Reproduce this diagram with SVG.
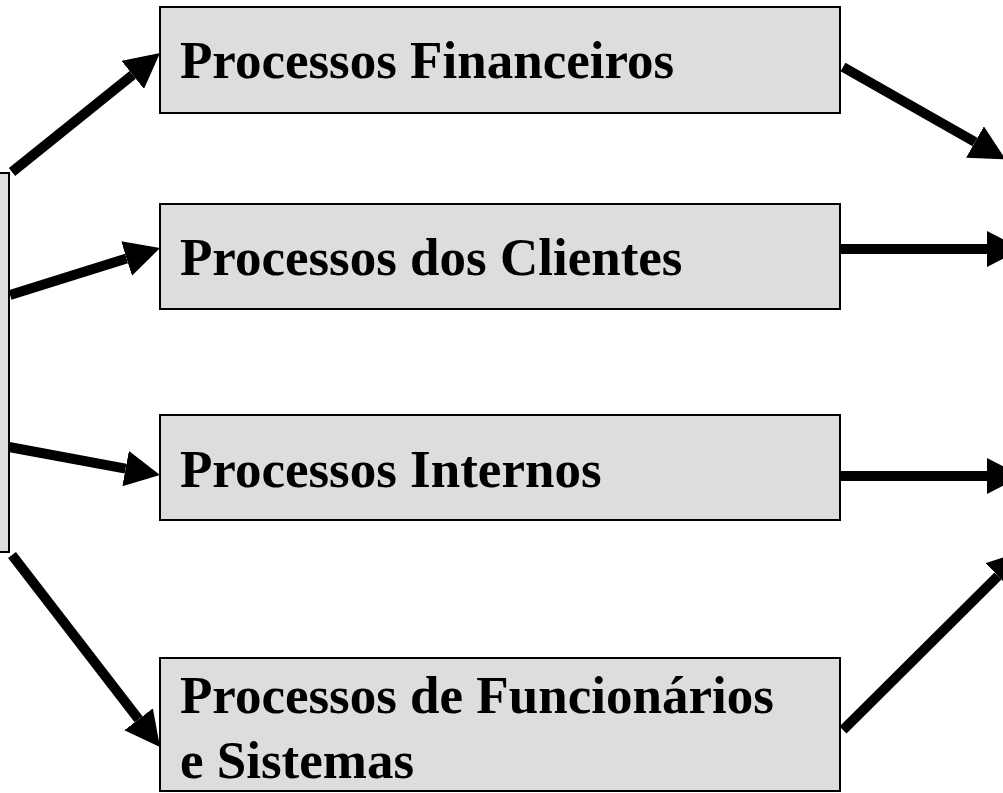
<svg xmlns="http://www.w3.org/2000/svg" width="1003" height="793" viewBox="0 0 1003 793">
<style>
.box{fill:#dddddd;stroke:#000;stroke-width:2}
.lbl{font-family:"Liberation Serif","Times New Roman",serif;font-weight:bold;font-size:53px;fill:#000}
.arr{stroke:#000;stroke-width:10;fill:none;stroke-linecap:butt;marker-end:url(#ah)}
</style>
<defs>
<marker id="ah" viewBox="0 -18 35 36" refX="0" refY="0" markerWidth="35" markerHeight="36" markerUnits="userSpaceOnUse" orient="auto">
<path d="M0,-18 L35,0 L0,18 z" fill="#000"/>
</marker>
</defs>
<rect width="1003" height="793" fill="#fff"/>
<g id="source"><rect class="box" x="-10" y="173" width="19" height="379"/></g>
<g id="n1"><rect class="box" x="160" y="7" width="680" height="106"/><text class="lbl" x="180" y="78">Processos Financeiros</text></g>
<g id="n2"><rect class="box" x="160" y="204" width="680" height="105"/><text class="lbl" x="180" y="275">Processos dos Clientes</text></g>
<g id="n3"><rect class="box" x="160" y="415" width="680" height="105"/><text class="lbl" x="180" y="487">Processos Internos</text></g>
<g id="n4"><rect class="box" x="160" y="658" width="680" height="133"/><text class="lbl" x="180" y="713">Processos de Funcionários</text><text class="lbl" x="180" y="778">e Sistemas</text></g>
<g id="connectors">
<line class="arr" x1="12" y1="172" x2="132.7" y2="74.9"/>
<line class="arr" x1="10" y1="295" x2="126.6" y2="258.5"/>
<line class="arr" x1="9" y1="447" x2="125.6" y2="468.6"/>
<line class="arr" x1="12" y1="555" x2="138.6" y2="719.3"/>
<line class="arr" x1="843" y1="67" x2="975" y2="142"/>
<line class="arr" x1="841" y1="249" x2="987" y2="249"/>
<line class="arr" x1="841" y1="476" x2="987" y2="476"/>
<line class="arr" x1="843" y1="730" x2="998" y2="576"/>
</g>
</svg>
